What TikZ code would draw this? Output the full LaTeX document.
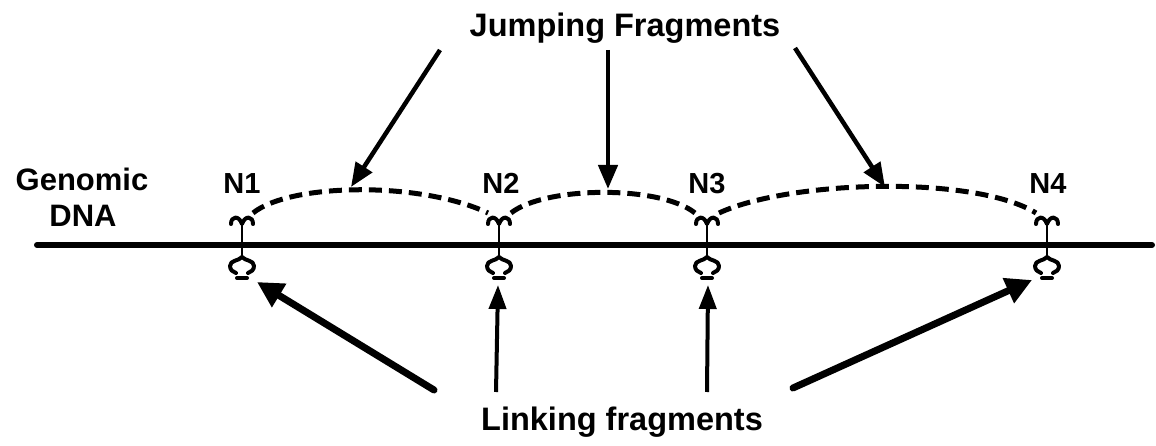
\documentclass[tikz,border=0pt]{standalone}
\usepackage{fontspec}
\setmainfont{Liberation Sans}
\usetikzlibrary{arrows.meta}
\begin{document}
\begin{tikzpicture}[x=1pt,y=-1pt,
  title/.style={font=\bfseries\fontsize{32.5}{36}\selectfont, inner sep=0pt, anchor=base},
  nlbl/.style={font=\bfseries\fontsize{29}{32}\selectfont, inner sep=0pt, anchor=base},
  gen/.style={font=\bfseries\fontsize{31}{34}\selectfont, inner sep=0pt, anchor=base},
  dna/.style={line width=6pt, line cap=round},
  glyph/.style={line width=4pt, line cap=round, line join=round},
  stem/.style={line width=2pt},
  jump/.style={line width=5pt, dash pattern=on 13pt off 7pt},
  jarrow/.style={line width=4.5pt, -{Triangle[length=24pt,width=19pt]}},
  larrow/.style={line width=7pt, line cap=round, -{Triangle[length=26pt,width=26pt]}},
  tarrow/.style={line width=4pt, -{Triangle[length=24pt,width=17pt]}},
  site/.pic={
    \draw[stem] (0,-22) -- (0,13);
    \draw[glyph] (-11,-21) .. controls (-11,-29) and (-3,-30) .. (0,-21)
                 .. controls (3,-30) and (11,-29) .. (11,-21);
    \draw[glyph] (-6,28) .. controls (-9,27) and (-12,25) .. (-12,21)
                 .. controls (-12,15) and (-3,16) .. (0,12)
                 .. controls (3,16) and (12,15) .. (12,21)
                 .. controls (12,25) and (9,27) .. (6,28);
    \draw[glyph] (-5,33) -- (5,33);
  }
]
\useasboundingbox (0,0) rectangle (1156,446);

% genomic DNA line
\coordinate (dnaL) at (37,245);
\coordinate (dnaR) at (1152,245);
\draw[dna] (dnaL) -- (dnaR);

% sites
\coordinate (s1) at (242,245);
\coordinate (s2) at (499,245);
\coordinate (s3) at (707,245);
\coordinate (s4) at (1047,245);
\foreach \s in {s1,s2,s3,s4} \pic at (\s) {site};

% labels
\node[title] (jump) at (625,37) {Jumping Fragments};
\node[title] (link) at (622,430) {Linking fragments};
\node[gen] (genomic) at (82,191) {Genomic};
\node[gen] (dnatext) at (83,227) {DNA};
\node[nlbl] (n1) at (242,194) {N1};
\node[nlbl] (n2) at (501,194) {N2};
\node[nlbl] (n3) at (707,194) {N3};
\node[nlbl] (n4) at (1048,194) {N4};

% jumping fragment arcs
\coordinate (a1s) at (253,213);
\coordinate (a1e) at (488,213);
\coordinate (a2s) at (511,213);
\coordinate (a2e) at (695,213);
\coordinate (a3s) at (719,213);
\coordinate (a3e) at (1036,213);
\draw[jump] (a1s) .. controls (290,183) and (420,181) .. (a1e);
\draw[jump] (a2s) .. controls (545,186) and (660,185) .. (a2e);
\draw[jump] (a3s) .. controls (790,180) and (975,175) .. (a3e);

% jumping fragment arrows
\coordinate (j1s) at (440,50);
\coordinate (j1e) at (351,187);
\coordinate (j2s) at (608,50);
\coordinate (j2e) at (608,189);
\coordinate (j3s) at (795,48);
\coordinate (j3e) at (885,187);
\draw[jarrow] (j1s) -- (j1e);
\draw[jarrow] (j2s) -- (j2e);
\draw[jarrow] (j3s) -- (j3e);

% linking fragment arrows
\coordinate (l1s) at (434,390);
\coordinate (l1e) at (257,282);
\coordinate (l2s) at (496,392);
\coordinate (l2e) at (498,285);
\coordinate (l3s) at (707,392);
\coordinate (l3e) at (708,285);
\coordinate (l4s) at (793,388);
\coordinate (l4e) at (1032,280);
\draw[larrow] (l1s) -- (l1e);
\draw[tarrow] (l2s) -- (l2e);
\draw[tarrow] (l3s) -- (l3e);
\draw[larrow] (l4s) -- (l4e);
\end{tikzpicture}
\end{document}
